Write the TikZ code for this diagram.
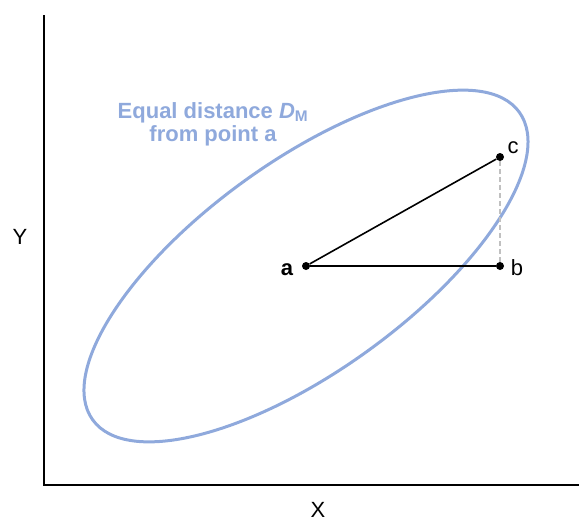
\documentclass[tikz,border=0pt]{standalone}
\usepackage{fontspec}
\setmainfont{Liberation Sans}
\usetikzlibrary{arrows.meta}
\definecolor{ellblue}{RGB}{143,169,220}
\definecolor{dashgray}{RGB}{192,192,192}

\begin{document}
\begin{tikzpicture}[x=1pt,y=-1pt,
    lbl/.style={font=\fontsize{22}{24}\selectfont,inner sep=1pt},
    dot/.style={circle,fill=black,inner sep=0pt,minimum size=8pt}]
    \useasboundingbox (0,0) rectangle (579,523);
    % axes
    \coordinate (top) at (44,15);
    \coordinate (origin) at (44,485);
    \coordinate (right) at (579,485);
    \draw[line width=1.5pt] (top) -- (origin) -- (right);
    \node[lbl] (ylab) at (20,237) {Y};
    \node[lbl] (xlab) at (318,510) {X};
    % points a, b, c
    \node[dot] (a) at (306,266) {};
    \node[dot] (b) at (500,266) {};
    \node[dot] (c) at (500,157) {};
    % curve of equal distance round a
    \draw[ellblue,line width=3pt,rotate around={35.8:(a)}] (a) ellipse [x radius=263pt, y radius=105pt];
    \node[lbl,ellblue,font=\fontsize{22}{23}\selectfont\bfseries,align=center] (title) at (213,124)
        {Equal distance \textit{D}\textsubscript{M}\\from point a};
    % triangle
    \draw[dashgray,line width=1.2pt,dash pattern=on 5pt off 3pt] (c) -- (b);
    \draw[line width=1.6pt] (a) -- (b);
    \draw[line width=1.6pt] (a) -- (c);
    \node[lbl,font=\fontsize{22}{24}\selectfont\bfseries] (alab) at (287,270) {a};
    \node[lbl] (blab) at (517,268) {b};
    \node[lbl] (clab) at (513,148) {c};
\end{tikzpicture}
\end{document}
